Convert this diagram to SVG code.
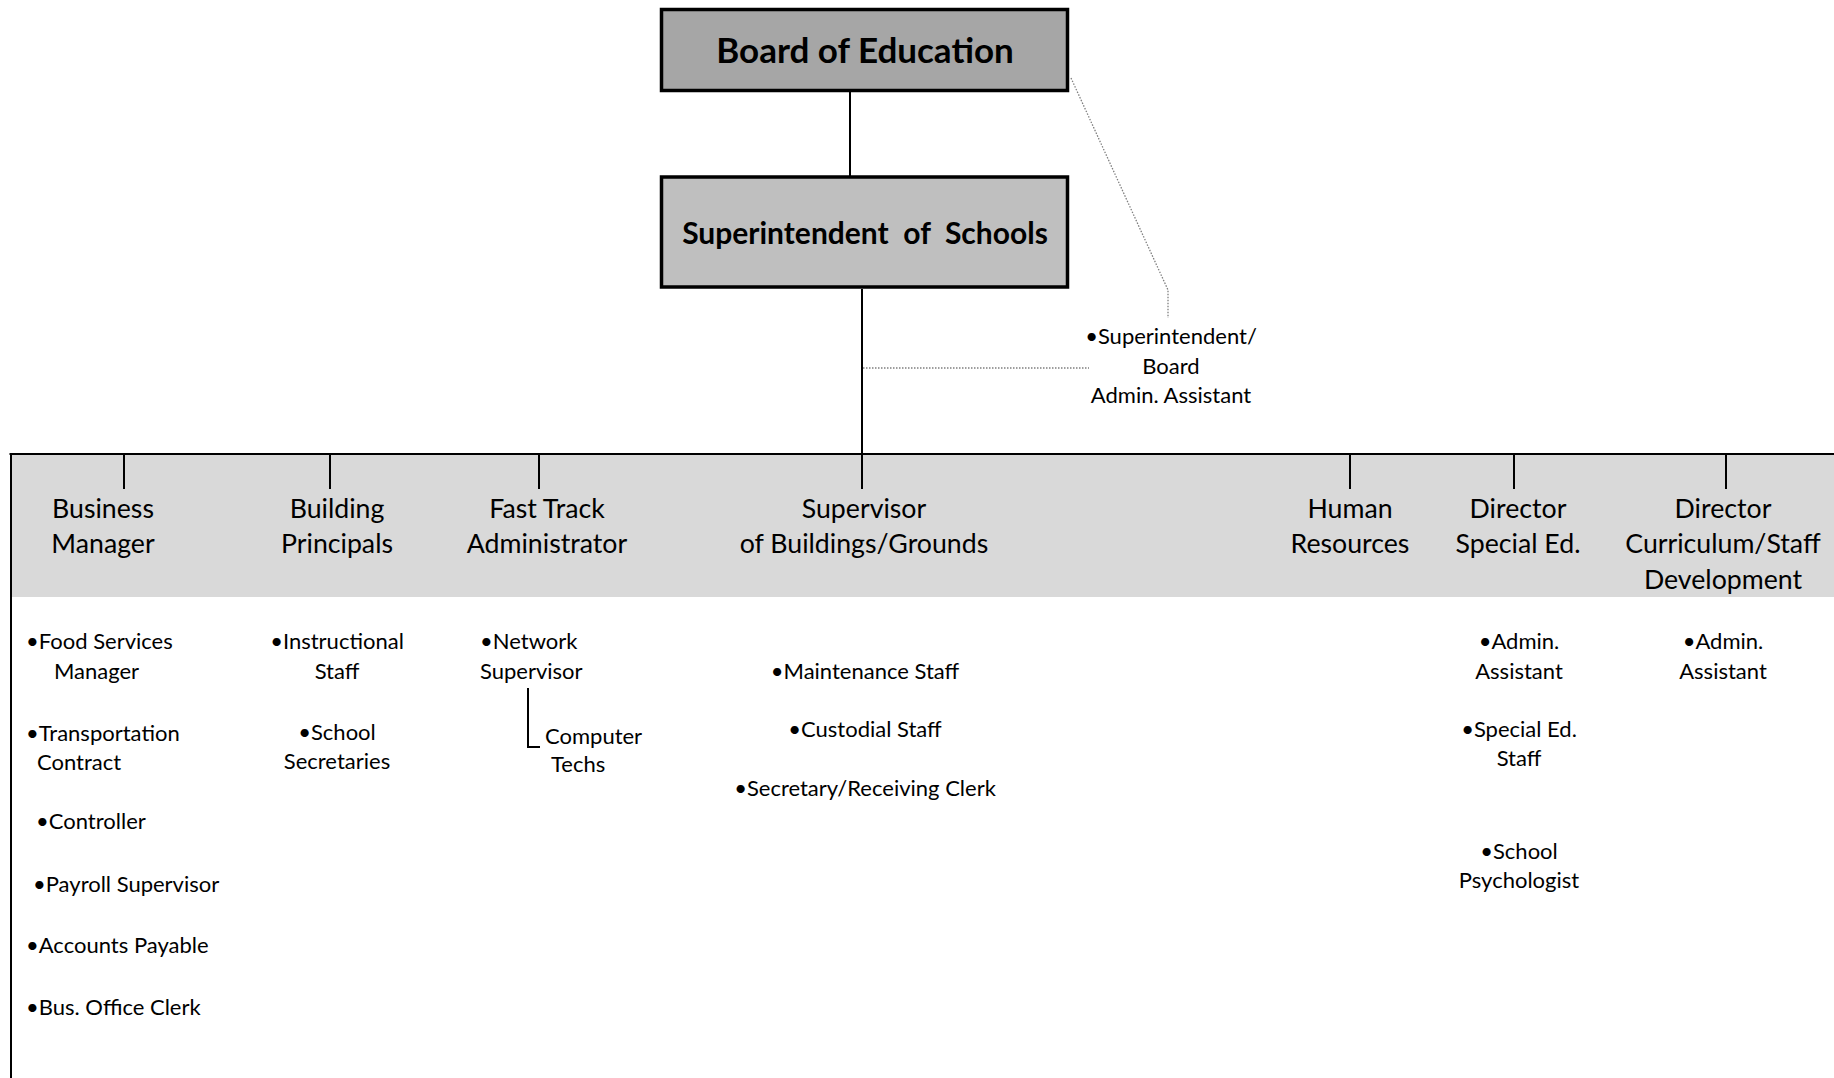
<svg xmlns="http://www.w3.org/2000/svg" width="1834" height="1078" viewBox="0 0 1834 1078">
<style>
  .box { stroke: #000; stroke-width: 3.5; }
  .title { font-family: Lato, "Open Sans", sans-serif; font-weight: bold; fill: #000; text-anchor: middle; }
  .hdr { font-family: Lato, "Open Sans", sans-serif; font-size: 26.7px; fill: #000; text-anchor: middle; }
  .sub { font-family: Lato, "Open Sans", sans-serif; font-size: 22px; fill: #000; }
  .mid { text-anchor: middle; }
  .solid { stroke: #000; stroke-width: 2; fill: none; }
  .dot { stroke: #7f7f7f; stroke-width: 1.3; stroke-dasharray: 1.5 1.5; fill: none; }
</style>
<rect width="1834" height="1078" fill="#fff"/>
<rect id="band" x="10" y="454" width="1824" height="143" fill="#d9d9d9"/>

<g id="connectors">
  <line class="solid" x1="850" y1="92" x2="850" y2="176" stroke="#404040"/>
  <line class="solid" x1="862" y1="289" x2="862" y2="489" stroke-width="2.5"/>
  <line class="solid" x1="9.5" y1="454" x2="1834" y2="454" stroke-width="2.5"/>
  <line class="solid" x1="11" y1="453" x2="11" y2="1078" stroke-width="3"/>
  <line class="solid" x1="124" y1="454" x2="124" y2="489"/>
  <line class="solid" x1="330" y1="454" x2="330" y2="489"/>
  <line class="solid" x1="539" y1="454" x2="539" y2="489"/>
  <line class="solid" x1="1350" y1="454" x2="1350" y2="489"/>
  <line class="solid" x1="1514" y1="454" x2="1514" y2="489"/>
  <line class="solid" x1="1726" y1="454" x2="1726" y2="489"/>
  <path class="dot" d="M1071,78 L1168,290 L1168,318"/>
  <path class="dot" d="M863,368 H1089"/>
  <path class="solid" d="M528,688 V747 H540" stroke-width="1.8"/>
</g>

<g id="board">
  <rect class="box" x="661.5" y="9.5" width="406" height="81" fill="#a6a6a6"/>
  <text class="title" x="865" y="63" font-size="35">Board of Education</text>
</g>

<g id="superintendent">
  <rect class="box" x="661.5" y="177" width="406" height="110" fill="#bfbfbf"/>
  <text class="title" x="865" y="244" font-size="30" xml:space="preserve">Superintendent  of  Schools</text>
</g>

<g id="admin-assistant" class="sub mid">
  <text x="1171" y="344">•Superintendent/</text>
  <text x="1171" y="374">Board</text>
  <text x="1171" y="403">Admin. Assistant</text>
</g>

<g id="business-manager">
  <text class="hdr" x="103" y="518">Business</text>
  <text class="hdr" x="103" y="553">Manager</text>
  <g class="sub">
    <text x="26" y="649">•Food Services</text>
    <text x="54" y="679">Manager</text>
    <text x="26" y="741">•Transportation</text>
    <text x="37" y="770">Contract</text>
    <text x="36" y="829">•Controller</text>
    <text x="33" y="892">•Payroll Supervisor</text>
    <text x="26" y="953">•Accounts Payable</text>
    <text x="26" y="1015">•Bus. Office Clerk</text>
  </g>
</g>

<g id="building-principals">
  <text class="hdr" x="337" y="518">Building</text>
  <text class="hdr" x="337" y="553">Principals</text>
  <g class="sub mid">
    <text x="337" y="649">•Instructional</text>
    <text x="337" y="679">Staff</text>
    <text x="337" y="740">•School</text>
    <text x="337" y="769">Secretaries</text>
  </g>
</g>

<g id="fast-track">
  <text class="hdr" x="547" y="518">Fast Track</text>
  <text class="hdr" x="547" y="553">Administrator</text>
  <g class="sub">
    <text x="480" y="649">•Network</text>
    <text x="480" y="679">Supervisor</text>
    <text x="545" y="744">Computer</text>
    <text x="551" y="772">Techs</text>
  </g>
</g>

<g id="buildings-grounds">
  <text class="hdr" x="864" y="518">Supervisor</text>
  <text class="hdr" x="864" y="553">of Buildings/Grounds</text>
  <g class="sub mid">
    <text x="865" y="679">•Maintenance Staff</text>
    <text x="865" y="737">•Custodial Staff</text>
    <text x="865" y="796">•Secretary/Receiving Clerk</text>
  </g>
</g>

<g id="human-resources">
  <text class="hdr" x="1350" y="518">Human</text>
  <text class="hdr" x="1350" y="553">Resources</text>
</g>

<g id="special-ed">
  <text class="hdr" x="1518" y="518">Director</text>
  <text class="hdr" x="1518" y="553">Special Ed.</text>
  <g class="sub mid">
    <text x="1519" y="649">•Admin.</text>
    <text x="1519" y="679">Assistant</text>
    <text x="1519" y="737">•Special Ed.</text>
    <text x="1519" y="766">Staff</text>
    <text x="1519" y="859">•School</text>
    <text x="1519" y="888">Psychologist</text>
  </g>
</g>

<g id="curriculum">
  <text class="hdr" x="1723" y="518">Director</text>
  <text class="hdr" x="1723" y="553">Curriculum/Staff</text>
  <text class="hdr" x="1723" y="589">Development</text>
  <g class="sub mid">
    <text x="1723" y="649">•Admin.</text>
    <text x="1723" y="679">Assistant</text>
  </g>
</g>
</svg>
